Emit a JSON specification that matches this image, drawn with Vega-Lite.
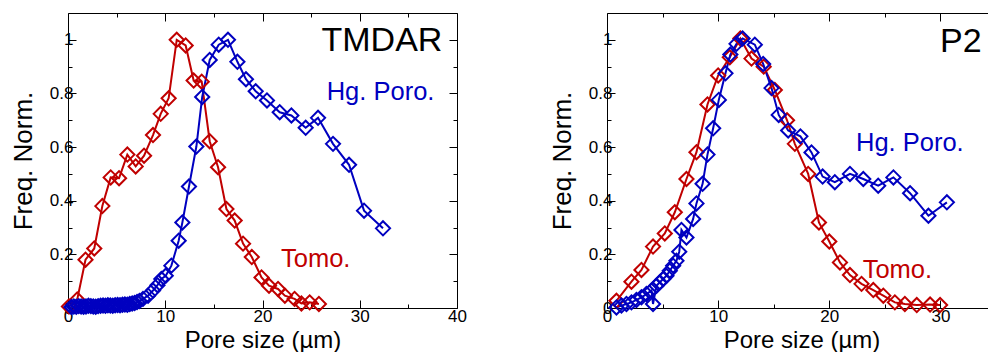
{
  "$schema": "https://vega.github.io/schema/vega-lite/v6.json",
  "padding": {"left": 10, "top": 12, "right": 0, "bottom": 0},
  "background": "white",
  "datasets": {
    "left": [
      {"s": "Tomo", "x": 0.1, "y": 0.006}, {"s": "Tomo", "x": 0.95, "y": 0.032}, {"s": "Tomo", "x": 1.8, "y": 0.18},
      {"s": "Tomo", "x": 2.7, "y": 0.222}, {"s": "Tomo", "x": 3.53, "y": 0.38}, {"s": "Tomo", "x": 4.39, "y": 0.487},
      {"s": "Tomo", "x": 5.25, "y": 0.484}, {"s": "Tomo", "x": 6.1, "y": 0.572}, {"s": "Tomo", "x": 6.96, "y": 0.528},
      {"s": "Tomo", "x": 7.82, "y": 0.568}, {"s": "Tomo", "x": 8.74, "y": 0.645}, {"s": "Tomo", "x": 9.53, "y": 0.724},
      {"s": "Tomo", "x": 10.35, "y": 0.782}, {"s": "Tomo", "x": 11.18, "y": 1.0}, {"s": "Tomo", "x": 12.1, "y": 0.979},
      {"s": "Tomo", "x": 12.92, "y": 0.848}, {"s": "Tomo", "x": 13.75, "y": 0.844}, {"s": "Tomo", "x": 14.57, "y": 0.622},
      {"s": "Tomo", "x": 15.43, "y": 0.525}, {"s": "Tomo", "x": 16.29, "y": 0.369}, {"s": "Tomo", "x": 17.14, "y": 0.326},
      {"s": "Tomo", "x": 18.0, "y": 0.24}, {"s": "Tomo", "x": 18.9, "y": 0.19}, {"s": "Tomo", "x": 19.9, "y": 0.114},
      {"s": "Tomo", "x": 20.67, "y": 0.083}, {"s": "Tomo", "x": 21.6, "y": 0.071}, {"s": "Tomo", "x": 22.3, "y": 0.046},
      {"s": "Tomo", "x": 23.3, "y": 0.034}, {"s": "Tomo", "x": 24.0, "y": 0.017}, {"s": "Tomo", "x": 24.85, "y": 0.021},
      {"s": "Tomo", "x": 25.8, "y": 0.015},
      {"s": "Hg", "x": 0.35, "y": 0.004}, {"s": "Hg", "x": 0.6, "y": 0.006}, {"s": "Hg", "x": 0.85, "y": 0.005},
      {"s": "Hg", "x": 1.1, "y": 0.007}, {"s": "Hg", "x": 1.35, "y": 0.006}, {"s": "Hg", "x": 1.6, "y": 0.005},
      {"s": "Hg", "x": 1.85, "y": 0.006}, {"s": "Hg", "x": 2.1, "y": 0.008}, {"s": "Hg", "x": 2.35, "y": 0.007},
      {"s": "Hg", "x": 2.6, "y": 0.006}, {"s": "Hg", "x": 2.85, "y": 0.005}, {"s": "Hg", "x": 3.1, "y": 0.007},
      {"s": "Hg", "x": 3.35, "y": 0.008}, {"s": "Hg", "x": 3.6, "y": 0.009}, {"s": "Hg", "x": 3.85, "y": 0.008},
      {"s": "Hg", "x": 4.1, "y": 0.01}, {"s": "Hg", "x": 4.35, "y": 0.009}, {"s": "Hg", "x": 4.6, "y": 0.008},
      {"s": "Hg", "x": 4.85, "y": 0.01}, {"s": "Hg", "x": 5.1, "y": 0.011}, {"s": "Hg", "x": 5.35, "y": 0.01},
      {"s": "Hg", "x": 5.6, "y": 0.012}, {"s": "Hg", "x": 5.85, "y": 0.013}, {"s": "Hg", "x": 6.1, "y": 0.012},
      {"s": "Hg", "x": 6.35, "y": 0.015}, {"s": "Hg", "x": 6.6, "y": 0.017}, {"s": "Hg", "x": 6.85, "y": 0.019},
      {"s": "Hg", "x": 7.1, "y": 0.022}, {"s": "Hg", "x": 7.35, "y": 0.026}, {"s": "Hg", "x": 7.71, "y": 0.034},
      {"s": "Hg", "x": 8.23, "y": 0.046}, {"s": "Hg", "x": 8.74, "y": 0.065}, {"s": "Hg", "x": 9.2, "y": 0.085},
      {"s": "Hg", "x": 9.6, "y": 0.108}, {"s": "Hg", "x": 10.05, "y": 0.12}, {"s": "Hg", "x": 10.63, "y": 0.158},
      {"s": "Hg", "x": 11.38, "y": 0.251}, {"s": "Hg", "x": 11.76, "y": 0.319}, {"s": "Hg", "x": 12.44, "y": 0.453},
      {"s": "Hg", "x": 13.2, "y": 0.602}, {"s": "Hg", "x": 13.8, "y": 0.787}, {"s": "Hg", "x": 14.57, "y": 0.925},
      {"s": "Hg", "x": 15.5, "y": 0.982}, {"s": "Hg", "x": 16.45, "y": 1.0}, {"s": "Hg", "x": 17.42, "y": 0.918},
      {"s": "Hg", "x": 18.3, "y": 0.853}, {"s": "Hg", "x": 19.3, "y": 0.808}, {"s": "Hg", "x": 20.46, "y": 0.774},
      {"s": "Hg", "x": 21.77, "y": 0.73}, {"s": "Hg", "x": 22.97, "y": 0.718}, {"s": "Hg", "x": 24.44, "y": 0.672},
      {"s": "Hg", "x": 25.71, "y": 0.709}, {"s": "Hg", "x": 27.25, "y": 0.612}, {"s": "Hg", "x": 28.9, "y": 0.534},
      {"s": "Hg", "x": 30.44, "y": 0.363}, {"s": "Hg", "x": 32.39, "y": 0.297}
    ],
    "right": [
      {"s": "Tomo", "x": 0.85, "y": 0.027}, {"s": "Tomo", "x": 2.2, "y": 0.098}, {"s": "Tomo", "x": 3.1, "y": 0.142},
      {"s": "Tomo", "x": 4.14, "y": 0.229}, {"s": "Tomo", "x": 5.2, "y": 0.278}, {"s": "Tomo", "x": 6.1, "y": 0.357},
      {"s": "Tomo", "x": 7.15, "y": 0.481}, {"s": "Tomo", "x": 8.05, "y": 0.581}, {"s": "Tomo", "x": 9.04, "y": 0.759},
      {"s": "Tomo", "x": 10.0, "y": 0.867}, {"s": "Tomo", "x": 11.05, "y": 0.935}, {"s": "Tomo", "x": 12.0, "y": 1.005},
      {"s": "Tomo", "x": 13.0, "y": 0.93}, {"s": "Tomo", "x": 14.1, "y": 0.9}, {"s": "Tomo", "x": 15.1, "y": 0.813},
      {"s": "Tomo", "x": 16.2, "y": 0.7}, {"s": "Tomo", "x": 16.9, "y": 0.612}, {"s": "Tomo", "x": 18.1, "y": 0.5},
      {"s": "Tomo", "x": 19.07, "y": 0.319}, {"s": "Tomo", "x": 20.0, "y": 0.248}, {"s": "Tomo", "x": 20.96, "y": 0.17},
      {"s": "Tomo", "x": 21.86, "y": 0.123}, {"s": "Tomo", "x": 22.9, "y": 0.09}, {"s": "Tomo", "x": 23.96, "y": 0.067},
      {"s": "Tomo", "x": 24.86, "y": 0.046}, {"s": "Tomo", "x": 25.9, "y": 0.021}, {"s": "Tomo", "x": 26.8, "y": 0.015},
      {"s": "Tomo", "x": 27.87, "y": 0.011}, {"s": "Tomo", "x": 29.07, "y": 0.013}, {"s": "Tomo", "x": 29.97, "y": 0.011},
      {"s": "Hg", "x": 0.85, "y": 0.002}, {"s": "Hg", "x": 1.3, "y": 0.009}, {"s": "Hg", "x": 1.75, "y": 0.015},
      {"s": "Hg", "x": 2.2, "y": 0.021}, {"s": "Hg", "x": 2.65, "y": 0.03}, {"s": "Hg", "x": 3.1, "y": 0.04},
      {"s": "Hg", "x": 3.55, "y": 0.052}, {"s": "Hg", "x": 4.0, "y": 0.065}, {"s": "Hg", "x": 4.14, "y": 0.015},
      {"s": "Hg", "x": 4.45, "y": 0.083}, {"s": "Hg", "x": 4.75, "y": 0.096}, {"s": "Hg", "x": 5.05, "y": 0.108},
      {"s": "Hg", "x": 5.35, "y": 0.12}, {"s": "Hg", "x": 5.65, "y": 0.139}, {"s": "Hg", "x": 5.95, "y": 0.158},
      {"s": "Hg", "x": 6.25, "y": 0.176}, {"s": "Hg", "x": 6.5, "y": 0.21}, {"s": "Hg", "x": 6.7, "y": 0.291},
      {"s": "Hg", "x": 7.15, "y": 0.263}, {"s": "Hg", "x": 7.75, "y": 0.332}, {"s": "Hg", "x": 8.05, "y": 0.39},
      {"s": "Hg", "x": 8.6, "y": 0.463}, {"s": "Hg", "x": 9.04, "y": 0.572}, {"s": "Hg", "x": 9.55, "y": 0.67},
      {"s": "Hg", "x": 10.06, "y": 0.776}, {"s": "Hg", "x": 10.66, "y": 0.875}, {"s": "Hg", "x": 11.1, "y": 0.945},
      {"s": "Hg", "x": 11.65, "y": 0.985}, {"s": "Hg", "x": 12.2, "y": 1.005}, {"s": "Hg", "x": 13.3, "y": 0.982},
      {"s": "Hg", "x": 14.05, "y": 0.91}, {"s": "Hg", "x": 14.8, "y": 0.82}, {"s": "Hg", "x": 15.45, "y": 0.72},
      {"s": "Hg", "x": 16.3, "y": 0.662}, {"s": "Hg", "x": 17.4, "y": 0.64}, {"s": "Hg", "x": 18.4, "y": 0.58},
      {"s": "Hg", "x": 19.4, "y": 0.49}, {"s": "Hg", "x": 20.5, "y": 0.469}, {"s": "Hg", "x": 21.86, "y": 0.5},
      {"s": "Hg", "x": 23.06, "y": 0.481}, {"s": "Hg", "x": 24.4, "y": 0.456}, {"s": "Hg", "x": 25.77, "y": 0.487},
      {"s": "Hg", "x": 27.27, "y": 0.428}, {"s": "Hg", "x": 28.92, "y": 0.344}, {"s": "Hg", "x": 30.58, "y": 0.394}
    ],
    "leftText": [
      {"s": "Hg", "label": "Hg. Poro.", "x": 26.6, "y": 0.774},
      {"s": "Tomo", "label": "Tomo.", "x": 21.9, "y": 0.152}
    ],
    "leftTitle": [{"s": "label", "label": "TMDAR", "x": 38.5, "y": 0.96}],
    "rightText": [
      {"s": "Hg", "label": "Hg. Poro.", "x": 22.4, "y": 0.587},
      {"s": "Tomo", "label": "Tomo.", "x": 23.0, "y": 0.112}
    ],
    "rightTitle": [{"s": "label", "label": "P2", "x": 33.7, "y": 0.954}]
  },
  "hconcat": [
    {
      "width": 389,
      "height": 295,
      "resolve": {"axis": {"x": "independent", "y": "independent"}},
      "layer": [
        {
          "data": {"name": "left"},
          "mark": {"type": "line", "strokeWidth": 2, "point": {"shape": "diamond", "filled": false, "size": 200, "strokeWidth": 2}},
          "encoding": {
            "x": {"field": "x", "type": "quantitative", "scale": {"domain": [0, 40], "nice": false, "zero": false},
              "axis": {"orient": "bottom", "title": "Pore size (µm)", "values": [0, 5, 10, 15, 20, 25, 30, 35, 40],
                "labelExpr": "datum.value % 10 == 0 ? datum.label : ''",
                "tickSize": {"condition": {"test": "datum.value % 10 == 0", "value": -8}, "value": -4},
                "labelPadding": 8, "titlePadding": 0}},
            "y": {"field": "y", "type": "quantitative", "scale": {"domain": [0, 1.1], "nice": false},
              "axis": {"orient": "left", "title": "Freq. Norm.", "values": [0, 0.1, 0.2, 0.3, 0.4, 0.5, 0.6, 0.7, 0.8, 0.9, 1.0],
                "labelExpr": "round(datum.value*10) % 2 == 0 ? format(datum.value, '~g') : ''",
                "tickSize": {"condition": {"test": "round(datum.value*10) % 2 == 0", "value": -8}, "value": -4},
                "labelPadding": 3, "titlePadding": 13}},
            "color": {"field": "s", "type": "nominal", "scale": {"domain": ["Tomo", "Hg", "label"], "range": ["#c00000", "#0000c0", "#000000"]}, "legend": null}
          }
        },
        {
          "data": {"name": "leftText"},
          "mark": {"type": "text", "align": "left", "baseline": "alphabetic", "fontSize": 25.5, "font": "Liberation Sans"},
          "encoding": {
            "x": {"field": "x", "type": "quantitative",
              "axis": {"orient": "top", "title": null, "labels": false, "values": [0, 5, 10, 15, 20, 25, 30, 35, 40],
                "tickSize": {"condition": {"test": "datum.value % 10 == 0", "value": -8}, "value": -4}}},
            "y": {"field": "y", "type": "quantitative",
              "axis": {"orient": "right", "title": null, "labels": false, "values": [0, 0.1, 0.2, 0.3, 0.4, 0.5, 0.6, 0.7, 0.8, 0.9, 1.0],
                "tickSize": {"condition": {"test": "round(datum.value*10) % 2 == 0", "value": -8}, "value": -4}}},
            "text": {"field": "label"},
            "color": {"field": "s", "type": "nominal", "legend": null}
          }
        },
        {
          "data": {"name": "leftTitle"},
          "mark": {"type": "text", "align": "right", "baseline": "alphabetic", "fontSize": 34, "font": "Liberation Sans"},
          "encoding": {
            "x": {"field": "x", "type": "quantitative", "axis": null},
            "y": {"field": "y", "type": "quantitative", "axis": null},
            "text": {"field": "label"},
            "color": {"field": "s", "type": "nominal", "legend": null}
          }
        }
      ]
    },
    {
      "width": 389,
      "height": 295,
      "resolve": {"axis": {"x": "independent", "y": "independent"}},
      "layer": [
        {
          "data": {"name": "right"},
          "mark": {"type": "line", "strokeWidth": 2, "point": {"shape": "diamond", "filled": false, "size": 200, "strokeWidth": 2}},
          "encoding": {
            "x": {"field": "x", "type": "quantitative", "scale": {"domain": [0, 35], "nice": false, "zero": false},
              "axis": {"orient": "bottom", "title": "Pore size (µm)", "values": [0, 5, 10, 15, 20, 25, 30, 35],
                "labelExpr": "datum.value % 10 == 0 ? datum.label : ''",
                "tickSize": {"condition": {"test": "datum.value % 10 == 0", "value": -8}, "value": -4},
                "labelPadding": 8, "titlePadding": 0}},
            "y": {"field": "y", "type": "quantitative", "scale": {"domain": [0, 1.1], "nice": false},
              "axis": {"orient": "left", "title": "Freq. Norm.", "values": [0, 0.1, 0.2, 0.3, 0.4, 0.5, 0.6, 0.7, 0.8, 0.9, 1.0],
                "labelExpr": "round(datum.value*10) % 2 == 0 ? format(datum.value, '~g') : ''",
                "tickSize": {"condition": {"test": "round(datum.value*10) % 2 == 0", "value": -8}, "value": -4},
                "labelPadding": 3, "titlePadding": 13}},
            "color": {"field": "s", "type": "nominal", "scale": {"domain": ["Tomo", "Hg", "label"], "range": ["#c00000", "#0000c0", "#000000"]}, "legend": null}
          }
        },
        {
          "data": {"name": "rightText"},
          "mark": {"type": "text", "align": "left", "baseline": "alphabetic", "fontSize": 25.5, "font": "Liberation Sans"},
          "encoding": {
            "x": {"field": "x", "type": "quantitative",
              "axis": {"orient": "top", "title": null, "labels": false, "values": [0, 5, 10, 15, 20, 25, 30, 35],
                "tickSize": {"condition": {"test": "datum.value % 10 == 0", "value": -8}, "value": -4}}},
            "y": {"field": "y", "type": "quantitative",
              "axis": {"orient": "right", "title": null, "labels": false, "values": [0, 0.1, 0.2, 0.3, 0.4, 0.5, 0.6, 0.7, 0.8, 0.9, 1.0],
                "tickSize": {"condition": {"test": "round(datum.value*10) % 2 == 0", "value": -8}, "value": -4}}},
            "text": {"field": "label"},
            "color": {"field": "s", "type": "nominal", "legend": null}
          }
        },
        {
          "data": {"name": "rightTitle"},
          "mark": {"type": "text", "align": "right", "baseline": "alphabetic", "fontSize": 34, "font": "Liberation Sans"},
          "encoding": {
            "x": {"field": "x", "type": "quantitative", "axis": null},
            "y": {"field": "y", "type": "quantitative", "axis": null},
            "text": {"field": "label"},
            "color": {"field": "s", "type": "nominal", "legend": null}
          }
        }
      ]
    }
  ],
  "spacing": 150,
  "bounds": "flush",
  "config": {
    "view": {"stroke": null},
    "font": "Liberation Sans",
    "axis": {
      "grid": false,
      "labelFont": "Liberation Sans",
      "titleFont": "Liberation Sans",
      "labelFontSize": 17,
      "titleFontSize": 24,
      "titleFontWeight": "normal",
      "labelColor": "#000000",
      "titleColor": "#000000",
      "domainColor": "#000000",
      "tickColor": "#000000",
      "domainWidth": 1,
      "tickWidth": 1,
      "labelFlush": false,
      "labelOverlap": false
    },
    "axisY": {"titleFontSize": 26}
  }
}
